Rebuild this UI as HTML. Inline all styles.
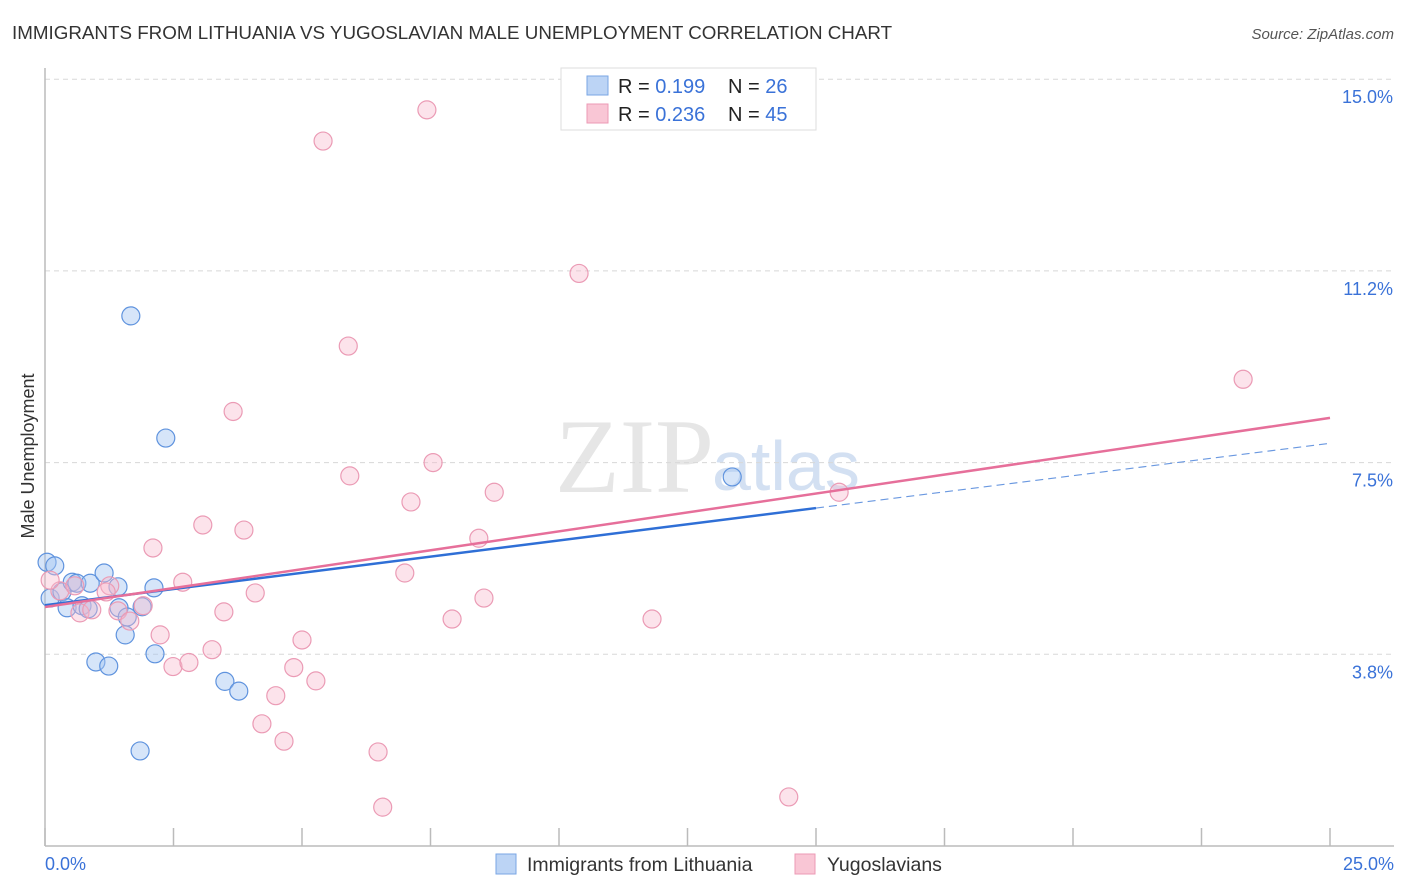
<!DOCTYPE html>
<html><head><meta charset="utf-8">
<style>
body{margin:0;background:#fff;font-family:"Liberation Sans",sans-serif;}
#wrap{position:relative;width:1406px;height:892px;overflow:hidden}
</style></head>
<body><div id="wrap">
<svg id="chart" width="1406" height="892">
<text x="12" y="39" font-size="18.8" fill="#333">IMMIGRANTS FROM LITHUANIA VS YUGOSLAVIAN MALE UNEMPLOYMENT CORRELATION CHART</text>
<text x="1394" y="39" font-size="15" fill="#555" font-style="italic" text-anchor="end">Source: ZipAtlas.com</text>
<text x="34" y="456" font-size="18" fill="#333" text-anchor="middle" transform="rotate(-90 34 456)">Male Unemployment</text>
<text x="714" y="492" font-size="106" fill="#e6e6e6" text-anchor="end" font-family="Liberation Serif,serif">ZIP</text>
<text x="712" y="490" font-size="70" fill="#d3e0f2">atlas</text>
<g id="grid"></g><g id="axes"></g><g id="pts"></g><g id="lines"></g>
<g>
<rect x="561" y="68" width="255" height="62" fill="#fff" stroke="#ddd"/>
<rect x="587" y="76" width="21" height="19" fill="#bcd4f5" stroke="#7aa6e4"/>
<rect x="587" y="104" width="21" height="19" fill="#f9c6d5" stroke="#ec9ab5"/>
<text x="618" y="93" font-size="20" fill="#222">R = <tspan fill="#3a72d8">0.199</tspan></text>
<text x="728" y="93" font-size="20" fill="#222">N = <tspan fill="#3a72d8">26</tspan></text>
<text x="618" y="121" font-size="20" fill="#222">R = <tspan fill="#3a72d8">0.236</tspan></text>
<text x="728" y="121" font-size="20" fill="#222">N = <tspan fill="#3a72d8">45</tspan></text>
</g>
<g>
<rect x="496" y="854" width="20" height="20" fill="#bcd4f5" stroke="#7aa6e4"/>
<text x="527" y="871" font-size="19.5" fill="#333">Immigrants from Lithuania</text>
<rect x="795" y="854" width="20" height="20" fill="#f9c6d5" stroke="#ec9ab5"/>
<text x="827" y="871" font-size="19.5" fill="#333">Yugoslavians</text>
</g>
</svg></div>
<script>
const yTicks=[3.75,7.5,11.25,15.0];
const yTickLabels=["3.8%","7.5%","11.2%","15.0%"];
const xTickLabels=["0.0%","25.0%"];
const blueX=[0.04,0.19,0.10,0.33,0.53,0.62,0.43,0.72,0.88,0.84,1.15,1.42,1.44,1.60,1.56,1.89,2.12,2.14,0.99,1.24,1.67,2.35,3.50,3.77,1.85,13.37];
const blueY=[5.55,5.48,4.85,4.97,5.16,5.14,4.66,4.70,5.14,4.64,5.34,5.07,4.66,4.48,4.13,4.68,5.05,3.76,3.60,3.52,10.37,7.98,3.22,3.03,1.86,7.22];
const pinkX=[7.43,5.41,10.39,5.90,23.31,3.66,7.55,5.93,8.74,7.12,15.45,3.07,3.87,8.44,2.10,7.00,2.68,4.09,8.54,3.48,7.92,11.81,2.24,3.25,5.00,2.49,2.80,4.84,5.27,4.49,4.22,4.65,6.48,6.57,14.47,0.29,0.58,0.68,1.26,1.42,1.65,1.91,0.10,0.91,1.19];
const pinkY=[14.4,13.79,11.2,9.78,9.13,8.5,7.5,7.24,6.92,6.73,6.92,6.28,6.18,6.02,5.83,5.34,5.16,4.95,4.85,4.58,4.44,4.44,4.13,3.84,4.03,3.51,3.59,3.49,3.23,2.94,2.39,2.05,1.84,0.76,0.96,4.99,5.09,4.56,5.09,4.60,4.40,4.70,5.20,4.62,4.97];
const blueFit=[4.71,0.1267], pinkFit=[4.675,0.148];
const blueSolidEnd=15;
const NS="http://www.w3.org/2000/svg";
const X=v=>45+v/25*1285, Y=v=>846-v/3.75*191.7;
function mk(t,a,p){const e=document.createElementNS(NS,t);for(const k in a)e.setAttribute(k,a[k]);document.getElementById(p).appendChild(e);return e;}
yTicks.forEach((t,i)=>{
 const g=mk('line',{x1:45,x2:1394,y1:Y(t),y2:Y(t),stroke:'#d8d8d8','stroke-dasharray':'5,4'},'grid');
 
 
 const l=mk('text',{x:1393,y:Y(t)+24,'font-size':18,fill:'#3a72d8','text-anchor':'end'},'axes');
 l.textContent=yTickLabels[i];
 
 
});
const ax=mk('line',{x1:45,x2:45,y1:68,y2:846,stroke:'#bbb','stroke-width':1.5},'axes');


const bx=mk('line',{x1:45,x2:1394,y1:846,y2:846,stroke:'#bbb','stroke-width':1.5},'axes');


for(let i=0;i<=10;i++){const t=mk('line',{x1:X(i*2.5),x2:X(i*2.5),y1:828,y2:846,stroke:'#bbb','stroke-width':1.5},'axes');
 
 }
[[0,'start',45],[25,'end',1394]].forEach((d,i)=>{const t=mk('text',{x:d[2],y:870,'font-size':18,fill:'#3a72d8','text-anchor':d[1]},'axes');t.textContent=xTickLabels[i];
 
 });
blueX.forEach((v,i)=>{const c=mk('circle',{cx:X(v),cy:Y(blueY[i]),r:9,fill:'rgba(165,198,242,0.45)',stroke:'#5f93de','stroke-width':1.2},'pts');
 
 });
pinkX.forEach((v,i)=>{const c=mk('circle',{cx:X(v),cy:Y(pinkY[i]),r:9,fill:'rgba(247,185,205,0.4)',stroke:'#eb9bb5','stroke-width':1.2},'pts');
 
 });
const l1=mk('line',{x1:X(0),y1:Y(blueFit[0]),x2:X(blueSolidEnd),y2:Y(blueFit[0]+blueFit[1]*blueSolidEnd),stroke:'#2f6fd6','stroke-width':2.5},'lines');


const l2=mk('line',{x1:X(blueSolidEnd),y1:Y(blueFit[0]+blueFit[1]*blueSolidEnd),x2:X(25),y2:Y(blueFit[0]+blueFit[1]*25),stroke:'#6a98e0','stroke-width':1.2,'stroke-dasharray':'8,5'},'lines');


const l3=mk('line',{x1:X(0),y1:Y(pinkFit[0]),x2:X(25),y2:Y(pinkFit[0]+pinkFit[1]*25),stroke:'#e66f9a','stroke-width':2.5},'lines');


</script></body></html>
